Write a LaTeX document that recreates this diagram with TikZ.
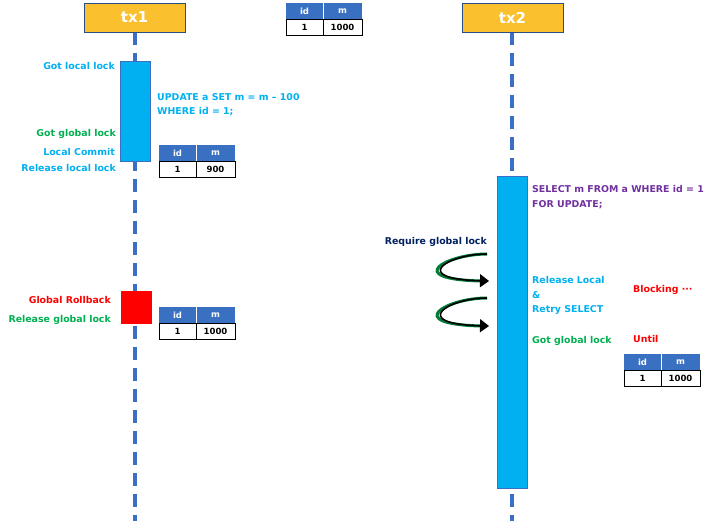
\documentclass[tikz,border=0pt]{standalone}
\usepackage{fontspec}
\setmainfont{DejaVu Sans}
\usetikzlibrary{arrows.meta}
\definecolor{cyanb}{HTML}{00B0F0}
\definecolor{lineb}{HTML}{3A6FC4}
\definecolor{orng}{HTML}{FBC02D}
\definecolor{grn}{HTML}{00B050}
\definecolor{purp}{HTML}{7030A0}
\definecolor{navy}{HTML}{002060}
\definecolor{hdr}{HTML}{3A70C2}
\begin{document}
\begin{tikzpicture}[x=1pt,y=-1pt,
  txt/.style={font=\bfseries\fontsize{9.4}{14.6}\selectfont,inner sep=0pt},
  ttxt/.style={inner sep=0pt,font=\bfseries\fontsize{8.5}{9}\selectfont},
  life/.style={lineb,line width=4pt,dash pattern=on 13pt off 8pt},
  head/.style={draw=hdr!70!black,fill=orng,line width=0.8pt,minimum width=101pt,minimum height=29pt,inner sep=0pt,text=white,font=\bfseries\fontsize{15}{18}\selectfont},
  act/.style={draw=lineb,fill=cyanb,line width=0.6pt},
  loop/.style={line width=3pt,grn!70!black},
  loopin/.style={line width=1.6pt,black,-{Triangle[length=9pt,width=13pt]}}]
\useasboundingbox (0,0) rectangle (724,521);
\newcommand{\dbtable}[4]{%
  \fill[hdr] (#1,#2) rectangle (#1+76,#2+16);
  \draw[black,line width=0.8pt] (#1,#2+16) rectangle (#1+76,#2+32);
  \draw[black,line width=0.8pt] (#1+37,#2+16) -- (#1+37,#2+32);
  \draw[white,line width=0.6pt] (#1+37,#2) -- (#1+37,#2+16);
  \node[ttxt,text=white] (#3h1) at (#1+18.5,#2+8) {id};
  \node[ttxt,text=white] (#3h2) at (#1+56.5,#2+8) {m};
  \node[ttxt] (#3d1) at (#1+18.5,#2+24) {1};
  \node[ttxt] (#3d2) at (#1+56.5,#2+24) {#4};}
% lifelines
\draw[life] (135,32) -- (135,521);
\draw[life] (512,32) -- (512,521);
\node[head] (tx1) at (134.5,17.5) {tx1};
\node[head] (tx2) at (512.5,17.5) {tx2};
% activations
\draw[act] (120,61) rectangle (150,161);
\draw[red,fill=red] (121,291) rectangle (151,323);
\draw[act] (497,176) rectangle (527,488);
% tables
\dbtable{286}{3}{ta}{1000}
\dbtable{159}{145}{tb}{900}
\dbtable{159}{307}{tc}{1000}
\dbtable{624}{354}{td}{1000}
% tx1 texts
\node[txt,text=cyanb,anchor=east] (t1) at (115,66) {Got local lock};
\node[txt,text=cyanb,anchor=west,align=left] (t2) at (157,104.5) {UPDATE a SET m = m -- 100\\WHERE id = 1;};
\node[txt,text=grn,anchor=east] (t3) at (116,134) {Got global lock};
\node[txt,text=cyanb,anchor=east] (t4) at (115,152) {Local Commit};
\node[txt,text=cyanb,anchor=east] (t5) at (116,168) {Release local lock};
\node[txt,text=red,anchor=east] (t6) at (111,300) {Global Rollback};
\node[txt,text=grn,anchor=east] (t7) at (111,320) {Release global lock};
% tx2 texts
\node[txt,text=purp,anchor=west,align=left] (s1) at (532,197) {SELECT m FROM a WHERE id = 1\\FOR UPDATE;};
\node[txt,text=navy,anchor=east] (s2) at (487,242) {Require global lock};
\node[txt,text=cyanb,anchor=west,align=left] (s3) at (532,295.5) {Release Local\\\&\\Retry SELECT};
\node[txt,text=red,anchor=west] (s4) at (633,290) {Blocking ···};
\node[txt,text=grn,anchor=west] (s5) at (532,341) {Got global lock};
\node[txt,text=red,anchor=west] (s6) at (633,339) {Until};
% loop arrows
\coordinate (a1) at (487,254); \coordinate (b1) at (489,281);
\coordinate (a2) at (487,298); \coordinate (b2) at (489,326);
\foreach \p/\q in {a1/b1,a2/b2}{
  \draw[loop] (\p) .. controls ++(-40,0) and ++(-80,-2) .. ([xshift=-8pt]\q);
  \draw[loopin] (\p) .. controls ++(-40,0) and ++(-80,-2) .. (\q);}
\end{tikzpicture}
\end{document}
